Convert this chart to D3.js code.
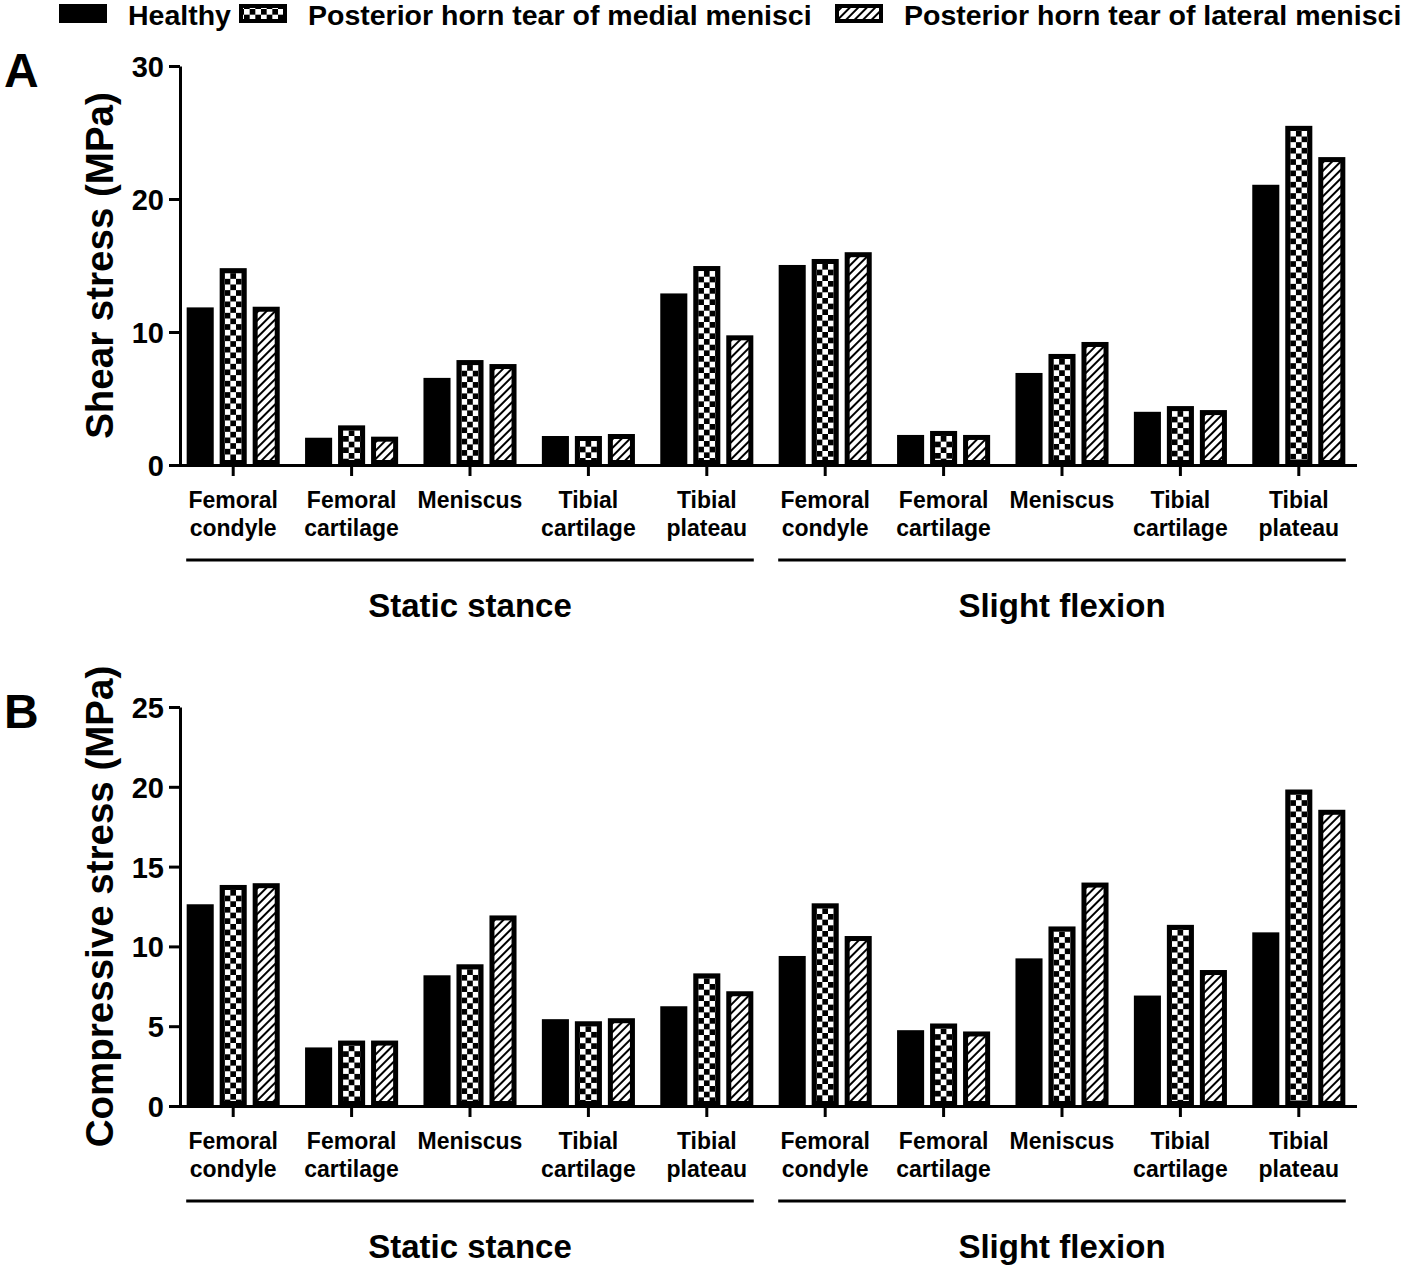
<!DOCTYPE html>
<html>
<head>
<meta charset="utf-8">
<script src="https://cdn.jsdelivr.net/npm/d3@7"></script>
<style>
body { margin: 0; background: #fff; }
svg text { font-family: "Liberation Sans", Arial, sans-serif; font-weight: bold; fill: #000; }
</style>
</head>
<body>
<svg id="chart" width="1418" height="1268"></svg>
<script>
// categories (two lines per label) and groups
var catLines = [["Femoral", "condyle"], ["Femoral", "cartilage"], ["Meniscus"], ["Tibial", "cartilage"], ["Tibial", "plateau"]];
var groups = ["Static stance", "Slight flexion"];
var seriesNames = ["Healthy", "Posterior horn tear of medial menisci", "Posterior horn tear of lateral menisci"];

// A - shear stress (MPa), first 5 = static stance, last 5 = slight flexion
var shearHealthy = [11.85, 2.05, 6.55, 2.18, 12.9, 15.04, 2.26, 6.92, 4.0, 21.07];
var shearMedial  = [14.8, 2.98, 7.89, 2.18, 14.96, 15.49, 2.56, 8.35, 4.43, 25.5];
var shearLateral = [11.9, 2.13, 7.59, 2.33, 9.75, 16.0, 2.26, 9.25, 4.13, 23.15];

// B - compressive stress (MPa)
var compHealthy = [12.64, 3.67, 8.19, 5.44, 6.25, 9.4, 4.75, 9.25, 6.92, 10.88];
var compMedial  = [13.85, 4.1, 8.88, 5.31, 8.31, 12.7, 5.17, 11.25, 11.35, 19.83];
var compLateral = [13.96, 4.1, 11.94, 5.5, 7.19, 10.65, 4.67, 14.0, 8.52, 18.56];

var shearTicks = [0, 10, 20, 30];
var compTicks = [0, 5, 10, 15, 20, 25];

var width = 1418, height = 1268;
var svg = d3.select("#chart");

var panels = [
  { letter: "A", ylabel: "Shear stress (MPa)", series: [shearHealthy, shearMedial, shearLateral], ticks: shearTicks, top: 66, bottom: 465 },
  { letter: "B", ylabel: "Compressive stress (MPa)", series: [compHealthy, compMedial, compLateral], ticks: compTicks, top: 707, bottom: 1106 }
];

// patterns
var defs = svg.append("defs");
var sq = 17 / 3;
var checker = defs.append("pattern")
  .attr("id", "checker")
  .attr("patternUnits", "userSpaceOnUse")
  .attr("x", 5).attr("y", 5)
  .attr("width", sq * 2).attr("height", sq * 2);
checker.append("rect").attr("width", sq * 2).attr("height", sq * 2).attr("fill", "#fff");
checker.append("rect").attr("x", sq).attr("y", 0).attr("width", sq).attr("height", sq).attr("fill", "#000");
checker.append("rect").attr("x", 0).attr("y", sq).attr("width", sq).attr("height", sq).attr("fill", "#000");

var hatch = defs.append("pattern")
  .attr("id", "hatch")
  .attr("patternUnits", "userSpaceOnUse")
  .attr("width", 6).attr("height", 6)
  .attr("patternTransform", "rotate(45)");
hatch.append("rect").attr("width", 6).attr("height", 6).attr("fill", "#fff");
hatch.append("line").attr("x1", 1).attr("x2", 1).attr("y1", 0).attr("y2", 6)
  .attr("stroke", "#000").attr("stroke-width", 2);

var fills = ["#000", "url(#checker)", "url(#hatch)"];

// x scales
var catIndex = d3.range(10);
var x = d3.scaleBand().domain(catIndex).range([174, 1358]).paddingInner(0).paddingOuter(0);
var xs = d3.scaleBand().domain([0, 1, 2]).range([-49.5, 49.5]).paddingInner(0.18).paddingOuter(0.09);

function drawBar(g, w, h, s, border) {
  if (s == 0) {
    g.append("rect").attr("width", w).attr("height", h).attr("fill", "#000");
  } else {
    g.append("rect")
      .attr("x", border / 2).attr("y", border / 2)
      .attr("width", Math.max(w - border, 0)).attr("height", Math.max(h - border, 0))
      .attr("fill", fills[s])
      .attr("stroke", "#000").attr("stroke-width", border);
  }
}

panels.forEach(function(p) {
  var yMax = d3.max(p.ticks);
  var y = d3.scaleLinear().domain([0, yMax]).range([p.bottom, p.top]);
  var g = svg.append("g");

  // bars
  p.series.forEach(function(vals, s) {
    g.append("g").selectAll("g")
      .data(vals)
      .join("g")
      .attr("transform", (d, i) => "translate(" + (x(i) + x.bandwidth() / 2 + xs(s)) + "," + y(d) + ")")
      .each(function(d) {
        drawBar(d3.select(this), xs.bandwidth(), y(0) - y(d), s, 5);
      });
  });

  // y axis
  var yAxis = d3.axisLeft(y).tickValues(p.ticks).tickSize(11).tickSizeOuter(0).tickPadding(5);
  var ya = g.append("g").attr("transform", "translate(180,0)").call(yAxis);
  ya.select(".domain").attr("stroke-width", 3).attr("stroke", "#000");
  ya.selectAll(".tick line").attr("stroke-width", 3).attr("stroke", "#000");
  ya.selectAll(".tick text").attr("font-size", 29).attr("dy", "0.36em");

  // x axis
  var xAxis = d3.axisBottom(x).tickSize(11).tickSizeOuter(0).tickFormat("");
  var xa = g.append("g").attr("transform", "translate(0," + p.bottom + ")").call(xAxis);
  xa.select(".domain").attr("stroke-width", 3).attr("stroke", "#000").attr("d", "M178.5,0.5H1357");
  xa.selectAll(".tick line").attr("stroke-width", 3).attr("stroke", "#000");

  // category labels
  catIndex.forEach(function(i) {
    var lines = catLines[i % 5];
    var t = g.append("text")
      .attr("x", x(i) + x.bandwidth() / 2)
      .attr("y", p.bottom + 43)
      .attr("text-anchor", "middle")
      .attr("font-size", 23);
    lines.forEach(function(l, k) {
      t.append("tspan").attr("x", x(i) + x.bandwidth() / 2).attr("dy", k == 0 ? 0 : 28).text(l);
    });
  });

  // group brackets and labels
  groups.forEach(function(name, gi) {
    var c0 = x(gi * 5) + x.bandwidth() / 2;
    var c1 = x(gi * 5 + 4) + x.bandwidth() / 2;
    g.append("line")
      .attr("x1", c0 - 47).attr("x2", c1 + 47)
      .attr("y1", p.bottom + 95).attr("y2", p.bottom + 95)
      .attr("stroke", "#000").attr("stroke-width", 3);
    g.append("text")
      .attr("x", (c0 + c1) / 2)
      .attr("y", p.bottom + 152)
      .attr("text-anchor", "middle")
      .attr("font-size", 33)
      .text(name);
  });

  // y label
  g.append("text")
    .attr("transform", "translate(113," + ((p.top + p.bottom) / 2) + ") rotate(-90)")
    .attr("text-anchor", "middle")
    .attr("font-size", 38.5)
    .text(p.ylabel);

  // panel letter
  g.append("text")
    .attr("x", 4).attr("y", p.top + 21)
    .attr("font-size", 48)
    .text(p.letter);
});

// legend
var legendX = [59, 239, 835];
var legend = svg.append("g");
seriesNames.forEach(function(name, s) {
  var sw = legend.append("g").attr("transform", "translate(" + legendX[s] + ",4)");
  drawBar(sw, 48, 19, s, 4);
  legend.append("text")
    .attr("x", legendX[s] + 69).attr("y", 25)
    .attr("font-size", 28.5)
    .text(name);
});
</script>
</body>
</html>
